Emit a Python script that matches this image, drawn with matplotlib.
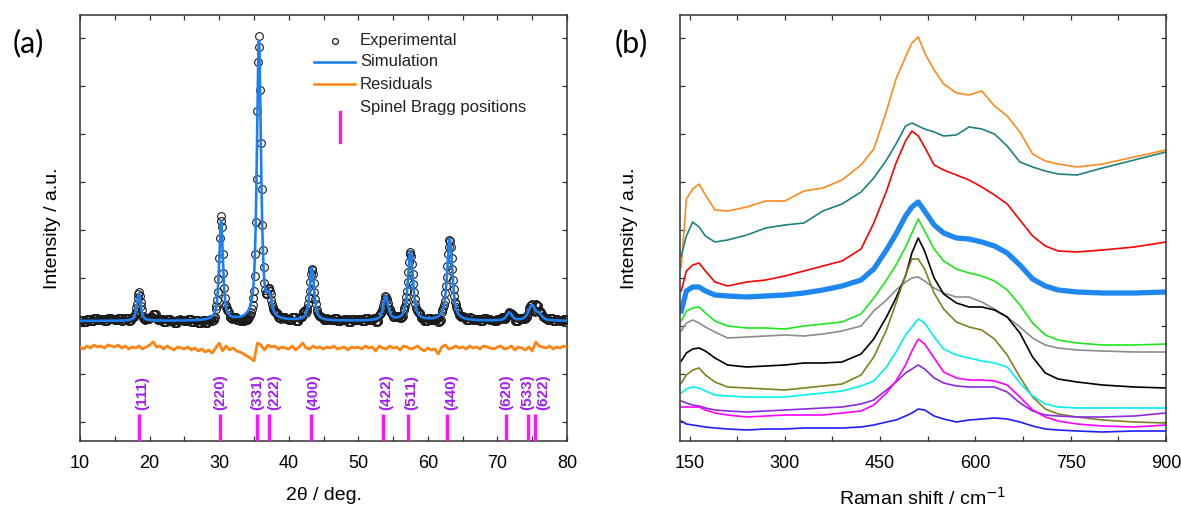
import numpy as np
import matplotlib
matplotlib.use("Agg")
import matplotlib.pyplot as plt
from matplotlib.ticker import MultipleLocator

plt.rcParams['font.family'] = ['Liberation Sans', 'DejaVu Sans']

# ---------------- (a) XRD refinement ----------------
# Fitted reflections: position (2theta, deg), height (a.u.), FWHM (deg)
peak_pos = [18.45, 30.28, 35.72, 37.20, 43.33, 53.95, 57.50, 63.15, 71.70, 74.95, 76.00]
peak_height = [27, 99, 280, 19, 53, 24, 69, 82, 8, 15, 5]
peak_fwhm = [0.65, 0.65, 0.70, 0.80, 0.75, 0.85, 0.85, 0.90, 0.90, 1.20, 1.00]
lorentz_fraction = 0.7

# Difference curve (obs - calc), sampled every 0.5 deg from 10 to 80
resid_start, resid_step = 10.0, 0.5
residual = [1, -1, 2, 0, 3, 1, 2, 0, 3, 2,
            1, 3, 0, 2, -1, 1, 0, 2, -1, 1,
            3, 6, 1, 2, -1, 2, 0, -2, 1, 0,
            -1, 1, -2, 0, -3, -1, -4, -2, -5, 0,
            5, -3, 2, -2, 0, -3, -4, -6, -8, -10,
            -13, 5, 3, -2, 3, 1, 2, -1, 1, 0,
            -1, 2, -2, 1, 5, 0, -1, 2, 0, 1,
            -1, 1, 0, 2, -1, 0, 1, -2, 1, 0,
            1, -1, 2, 0, 1, -3, 2, 0, -1, 2,
            0, 1, -2, 2, 1, -1, 0, 2, -1, -3,
            0, -2, -1, -6, 1, 3, -1, 0, 2, 0,
            1, -1, 2, 0, 1, -1, 2, 1, 0, -1,
            1, 2, -1, 0, 2, -2, 1, 0, -2, 1,
            -3, 6, 2, 1, 0, 2, -1, 1, 0, 2,
            1]

# Spinel reflections
bragg_pos = [18.45, 30.10, 35.50, 37.10, 43.15, 53.60, 57.15, 62.80, 71.25, 74.35, 75.40]
bragg_hkl = ['(111)', '(220)', '(331)', '(222)', '(400)', '(422)',
             '(511)', '(440)', '(620)', '(533)', '(622)']

# ---------------- (b) Raman spectra ----------------
raman_shift = [137, 145, 155, 165, 175, 190, 210, 240, 270, 300, 330, 360, 390, 420,
               440, 460, 475, 490, 500, 510, 520, 535, 550, 570, 590, 610, 630, 650,
               670, 690, 710, 730, 760, 800, 850, 900]

spec_orange = [174, 242, 252, 257, 246, 231, 230, 234, 240, 240, 250, 253, 261, 276,
               292, 330, 362, 384, 398, 404, 388, 371, 357, 348, 346, 350, 335, 325,
               309, 287, 280, 277, 274, 277, 284, 291]
spec_teal = [185, 205, 219, 214, 205, 199, 201, 206, 213, 216, 218, 230, 237, 249,
             263, 281, 297, 315, 318, 315, 312, 309, 305, 306, 314, 312, 307, 295,
             279, 274, 270, 267, 266, 273, 281, 289]
spec_red = [150, 170, 176, 178, 170, 159, 155, 159, 161, 165, 170, 175, 180, 192,
            218, 250, 278, 300, 310, 305, 294, 276, 271, 266, 261, 254, 246, 237,
            221, 205, 195, 190, 189, 191, 194, 199]
spec_bold = [130, 150, 154, 154, 150, 146, 145, 144, 145, 146, 148, 151, 155, 161,
             172, 191, 207, 225, 234, 239, 230, 216, 208, 203, 202, 199, 195, 188,
             176, 162, 155, 151, 149, 148, 148, 149]
spec_green = [120, 130, 133, 134, 128, 120, 115, 113, 113, 112, 115, 117, 119, 127,
              143, 161, 176, 194, 208, 222, 210, 192, 180, 172, 168, 165, 160, 151,
              136, 118, 106, 101, 98, 96, 96, 97]
spec_gray = [110, 118, 121, 118, 114, 109, 103, 104, 105, 106, 105, 107, 110, 115,
             130, 141, 151, 159, 163, 164, 160, 153, 148, 144, 144, 139, 132, 124,
             114, 103, 96, 93, 91, 90, 89, 89]
spec_black = [80, 88, 92, 93, 90, 83, 76, 74, 75, 76, 78, 78, 79, 87,
              102, 124, 143, 165, 188, 203, 190, 163, 147, 138, 134, 134, 131, 124,
              108, 84, 68, 62, 59, 56, 54, 53]
spec_olive = [58, 66, 71, 73, 66, 59, 54, 53, 52, 51, 53, 55, 57, 66,
              84, 111, 138, 166, 182, 182, 172, 148, 132, 119, 114, 111, 102, 86,
              64, 44, 32, 27, 24, 21, 19, 18]
spec_cyan = [48, 52, 54, 53, 50, 46, 45, 44, 44, 44, 46, 48, 50, 55,
             60, 74, 89, 106, 114, 122, 118, 104, 92, 86, 83, 80, 78, 74,
             58, 45, 37, 34, 33, 33, 33, 33]
spec_violet = [40, 38, 36, 35, 33, 31, 30, 29, 30, 31, 32, 33, 34, 37,
               41, 51, 59, 68, 72, 76, 72, 63, 58, 55, 54, 54, 54, 49,
               38, 30, 26, 25, 24, 24, 25, 28]
spec_magenta = [34, 34, 34, 34, 31, 28, 26, 24, 25, 26, 26, 26, 28, 30,
                36, 48, 60, 76, 90, 102, 97, 83, 69, 63, 61, 61, 60, 56,
                44, 31, 24, 20, 17, 15, 14, 16]
spec_blue = [20, 17, 16, 15, 14, 13, 12, 11, 12, 12, 13, 13, 13, 14,
             16, 19, 21, 25, 28, 32, 31, 25, 22, 19, 21, 22, 23, 22,
             19, 15, 12, 11, 10, 9, 10, 10]

raman_series = [
    (spec_orange, '#FF8A1C', 1.2),
    (spec_teal, '#1F8080', 1.2),
    (spec_red, '#FF0000', 1.2),
    (spec_bold, '#1E88F0', 3.8),
    (spec_green, '#1EE61E', 1.2),
    (spec_gray, '#8C8C8C', 1.2),
    (spec_black, '#000000', 1.2),
    (spec_olive, '#808020', 1.2),
    (spec_cyan, '#00F0F0', 1.2),
    (spec_violet, '#8A2BE2', 1.2),
    (spec_magenta, '#FF00FF', 1.2),
    (spec_blue, '#1E1EFF', 1.2),
]


def pseudo_voigt(x, centers, heights, widths, eta):
    y = np.zeros_like(x)
    for c, h, w in zip(centers, heights, widths):
        hw = w / 2.0
        lor = hw ** 2 / ((x - c) ** 2 + hw ** 2)
        gau = np.exp(-np.log(2) * ((x - c) / hw) ** 2)
        y += h * (eta * lor + (1 - eta) * gau)
    return y


W, H = 1181, 515
fig = plt.figure(figsize=(W / 100, H / 100), dpi=100)
ax1 = fig.add_axes([80 / W, 1 - 441 / H, 487 / W, 426 / H])
ax2 = fig.add_axes([680 / W, 1 - 441 / H, 486 / W, 426 / H])

spine_color = '#333333'
for ax in (ax1, ax2):
    for s in ax.spines.values():
        s.set_color(spine_color)
        s.set_linewidth(1.1)
    ax.tick_params(which='both', direction='in', top=True, right=True,
                   length=3.5, width=0.9, color=spine_color, labelsize=13,
                   pad=10)
    ax.tick_params(axis='y', labelleft=False)

# ---- panel (a)
two_theta_fine = np.round(np.arange(10.0, 80.0001, 0.05), 3)
sim = pseudo_voigt(two_theta_fine, peak_pos, peak_height, peak_fwhm, lorentz_fraction)

resid_x = resid_start + resid_step * np.arange(len(residual))
resid_arr = np.array(residual, dtype=float)

obs_x = np.round(np.arange(10.0, 80.0001, 0.1), 3)
obs_idx = np.minimum(((obs_x - resid_start) / resid_step).astype(int), len(residual) - 1)
obs = pseudo_voigt(obs_x, peak_pos, peak_height, peak_fwhm, lorentz_fraction) + resid_arr[obs_idx]

resid_offset = -27
ax1.plot(obs_x, obs, 'o', ms=5.6, mfc='none', mec='#1a1a1a', mew=0.8, zorder=2)
ax1.plot(two_theta_fine, sim, color='#1E80F0', lw=1.9, zorder=3)
ax1.plot(resid_x, resid_arr + resid_offset, color='#FF8410', lw=2.0, zorder=3)

ax1.vlines(bragg_pos, -120, -93, colors='#FF14FF', lw=2.4, zorder=3)
label_shift = {'(111)': 0.5, '(222)': 0.8, '(400)': 0.35, '(422)': 0.35,
               '(511)': 0.45, '(440)': 0.55, '(622)': 1.2}
for pos, hkl in zip(bragg_pos, bragg_hkl):
    ax1.text(pos + label_shift.get(hkl, 0.0), -89, hkl, rotation=90,
             ha='center', va='bottom', color='#A020F0', fontsize=11,
             fontweight='bold')

ax1.set_xlim(10, 80)
ax1.set_ylim(-120, 306)
ax1.xaxis.set_major_locator(MultipleLocator(10))
ax1.xaxis.set_minor_locator(MultipleLocator(5))
ax1.tick_params(which='minor', length=3.5)
ax1.set_yticks(np.arange(-101, 306, 48))
ax1.set_xlabel('2θ / deg.', fontsize=14, labelpad=11)
ax1.set_ylabel('Intensity / a.u.', fontsize=14, labelpad=14)

# legend drawn in axes coordinates
tr = ax1.transAxes
ax1.plot([0.524], [0.939], 'o', ms=4.2, mfc='none', mec='#1a1a1a', mew=0.9,
         transform=tr, clip_on=False)
ax1.plot([0.480, 0.565], [0.890, 0.890], color='#1E80F0', lw=1.9, transform=tr)
ax1.plot([0.480, 0.565], [0.838, 0.838], color='#FF8410', lw=1.8, transform=tr)
ax1.plot([0.534, 0.534], [0.702, 0.772], color='#FF14FF', lw=2.4, transform=tr)
for ypos, txt in zip([0.939, 0.890, 0.838, 0.784],
                     ['Experimental', 'Simulation', 'Residuals', 'Spinel Bragg positions']):
    ax1.text(0.575, ypos, txt, transform=tr, fontsize=12, va='center', ha='left',
             color='#222222')

# ---- panel (b)
for values, color, lw in raman_series:
    ax2.plot(raman_shift, values, color=color, lw=lw, solid_joinstyle='round')

ax2.set_xlim(135, 900)
ax2.set_ylim(0, 426)
ax2.set_xticks([150, 300, 450, 600, 750, 900])
ax2.xaxis.set_minor_locator(MultipleLocator(75))
ax2.tick_params(which='minor', length=3.5)
ax2.set_yticks(np.arange(19, 426, 48))
ax2.set_xlabel('Raman shift / cm$^{-1}$', fontsize=14, labelpad=11)
ax2.set_ylabel('Intensity / a.u.', fontsize=14, labelpad=30)

fig.text(13 / W, 1 - 43 / H, '(a)', fontsize=22, family=['Lato', 'DejaVu Sans'],
         va='center', ha='left')
fig.text(615 / W, 1 - 43 / H, '(b)', fontsize=22, family=['Lato', 'DejaVu Sans'],
         va='center', ha='left')

fig.savefig('out.png', dpi=100)
